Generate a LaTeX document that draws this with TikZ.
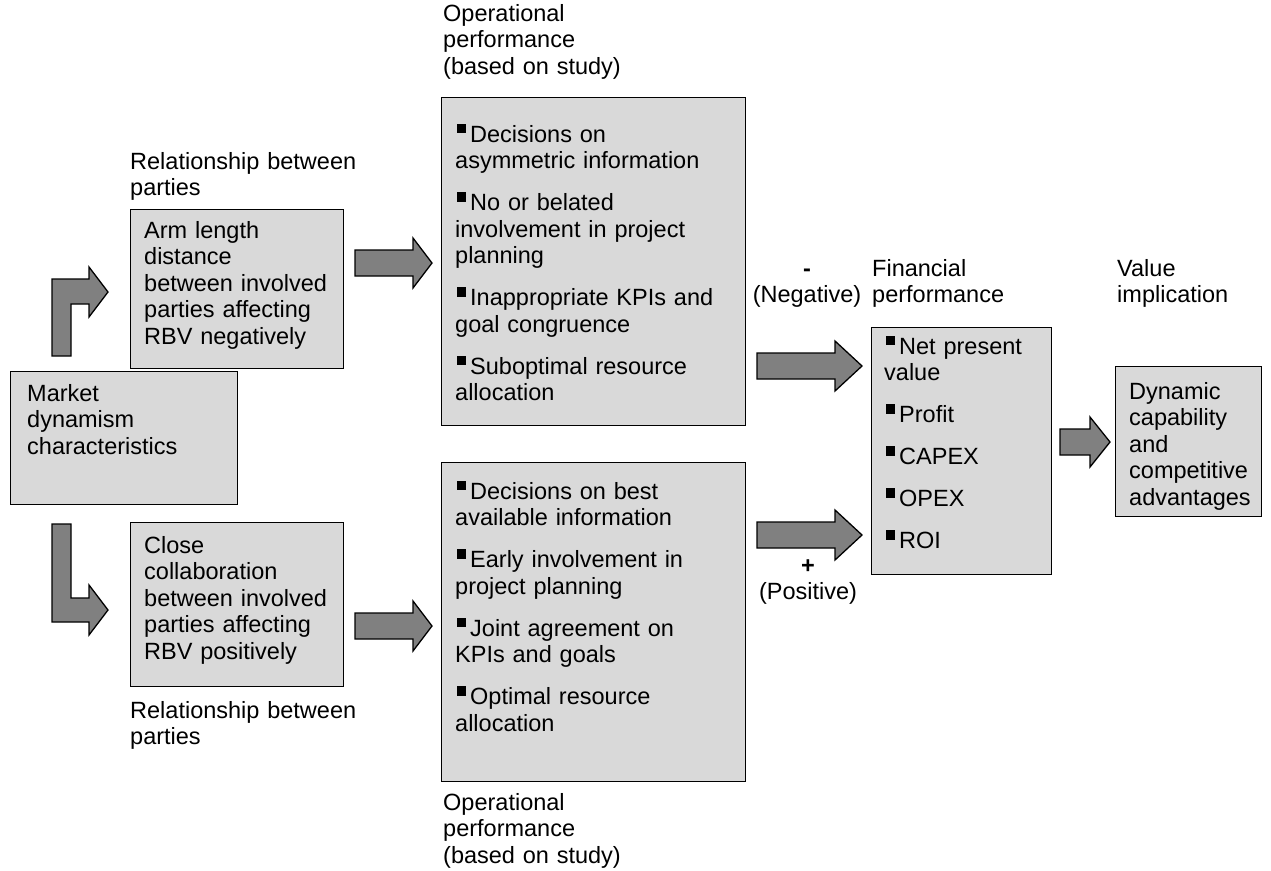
\documentclass[tikz,border=0pt]{standalone}
\usepackage{fontspec}
\setmainfont{Liberation Sans}
\usetikzlibrary{calc}
\definecolor{boxgray}{HTML}{D9D9D9}
\definecolor{arrowgray}{HTML}{808080}
\newcommand{\sqbullet}{\hspace*{2pt}\rule[9pt]{9pt}{9.5pt}\hspace{4pt}}
% block arrow: #1 start of shaft, #2 tip (same height), #3 head length
\newcommand{\blkarrow}[3]{%
  \draw[blk] let \p1=(#1), \p2=(#2) in
    (\x1,\y1+13pt) -- (\x2-#3,\y1+13pt) -- (\x2-#3,\y1+25pt) -- (\x2,\y1)
    -- (\x2-#3,\y1-25pt) -- (\x2-#3,\y1-13pt) -- (\x1,\y1-13pt) -- cycle;}
\tikzset{
  box/.style={draw=black, line width=1.3pt, fill=boxgray, inner sep=0pt, anchor=north west},
  txt/.style={inner sep=0pt, anchor=base west, align=left, text width=260pt,
    font=\fontsize{23.5}{26.5}\selectfont},
  ctxt/.style={inner sep=0pt, anchor=base, align=center, text width=120pt,
    font=\fontsize{23.5}{26.5}\selectfont},
  blk/.style={draw=black, line width=1.3pt, fill=arrowgray, line join=miter},
}
\begin{document}
\begin{tikzpicture}[x=1pt, y=-1pt]
\useasboundingbox (0,0) rectangle (1271,870);

% ---- boxes ----
\node[box, minimum width=213pt, minimum height=159pt] (relA) at (130,209) {};
\node[box, minimum width=227pt, minimum height=133pt] (market) at (10,371) {};
\node[box, minimum width=213pt, minimum height=164pt] (relB) at (130,522) {};
\node[box, minimum width=304pt, minimum height=328pt] (opA) at (441,97) {};
\node[box, minimum width=304pt, minimum height=319pt] (opB) at (441,462) {};
\node[box, minimum width=180pt, minimum height=247pt] (fin) at (871,327) {};
\node[box, minimum width=146pt, minimum height=150pt] (val) at (1115,366) {};

% ---- box texts ----
\node[txt] (relAtxt) at (144,238) {Arm length\\distance\\between involved\\parties affecting\\RBV negatively};
\node[txt] (markettxt) at (27,401) {Market\\dynamism\\characteristics};
\node[txt] (relBtxt) at (144,553) {Close\\collaboration\\between involved\\parties affecting\\RBV positively};
\node[txt] (opAtxt) at (455,142) {\sqbullet Decisions on\\asymmetric information\\[15.5pt]
  \sqbullet No or belated\\involvement in project\\planning\\[15.5pt]
  \sqbullet Inappropriate KPIs and\\goal congruence\\[15.5pt]
  \sqbullet Suboptimal resource\\allocation};
\node[txt] (opBtxt) at (455,499) {\sqbullet Decisions on best\\available information\\[15.5pt]
  \sqbullet Early involvement in\\project planning\\[15.5pt]
  \sqbullet Joint agreement on\\KPIs and goals\\[15.5pt]
  \sqbullet Optimal resource\\allocation};
\node[txt] (fintxt) at (884,354) {\sqbullet Net present\\value\\[15.5pt]
  \sqbullet Profit\\[15.5pt]\sqbullet CAPEX\\[15.5pt]\sqbullet OPEX\\[15.5pt]\sqbullet ROI};
\node[txt] (valtxt) at (1129,399) {Dynamic\\capability\\and\\competitive\\advantages};

% ---- captions ----
\node[txt] (opAlbl) at (443,21) {Operational\\performance\\(based on study)};
\node[txt] (relAlbl) at (130,169) {Relationship between\\parties};
\node[txt] (relBlbl) at (130,718) {Relationship between\\parties};
\node[txt] (opBlbl) at (443,810) {Operational\\performance\\(based on study)};
\node[txt] (finlbl) at (872,276) {Financial\\performance};
\node[txt] (vallbl) at (1117,276) {Value\\implication};
\node[ctxt] (neg) at (807,276) {\textbf{-}\\(Negative)};
\node[ctxt] (pos) at (808,573) {\textbf{+}\\(Positive)};

% ---- bent arrows from the market box ----
\draw[blk] (52,356) -- (52,279) -- (89,279) -- (89,267) -- (108,292) -- (89,317)
  -- (89,304) -- (71,304) -- (71,356) -- cycle;
\draw[blk] (52,524) -- (52,622) -- (89,622) -- (89,635) -- (108,610) -- (89,585)
  -- (89,598) -- (71,598) -- (71,524) -- cycle;

% ---- straight block arrows ----
\coordinate (a1s) at (355,263); \coordinate (a1t) at (432,263);
\coordinate (a2s) at (355,626); \coordinate (a2t) at (432,626);
\coordinate (a3s) at (757,366); \coordinate (a3t) at (862,366);
\coordinate (a4s) at (757,535); \coordinate (a4t) at (862,535);
\coordinate (a5s) at (1060,442); \coordinate (a5t) at (1110,442);
\blkarrow{a1s}{a1t}{19pt}
\blkarrow{a2s}{a2t}{19pt}
\blkarrow{a3s}{a3t}{27pt}
\blkarrow{a4s}{a4t}{27pt}
\blkarrow{a5s}{a5t}{20pt}
\end{tikzpicture}
\end{document}
